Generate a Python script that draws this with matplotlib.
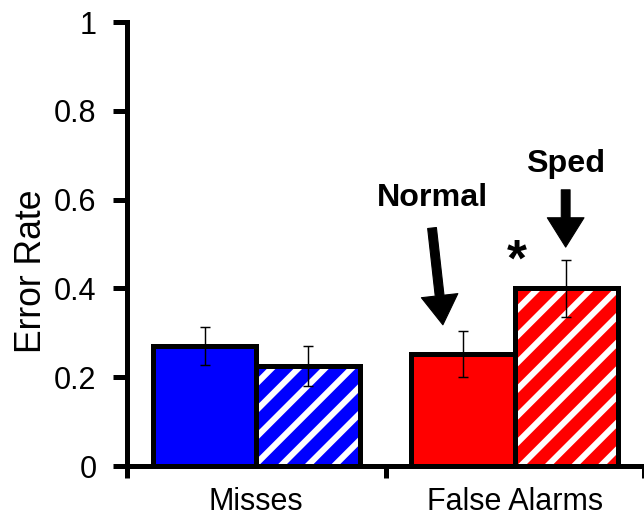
import matplotlib
matplotlib.use("Agg")
import matplotlib.pyplot as plt
import numpy as np

categories = ["Misses", "False Alarms"]
normal_vals = [0.27, 0.253]
normal_err = [0.043, 0.052]
sped_vals = [0.225, 0.40]
sped_err = [0.045, 0.065]
normal_colors = ["#0000FF", "#FF0000"]
yticks = [0, 0.2, 0.4, 0.6, 0.8, 1]
yticklabels = ["0", "0.2", "0.4", "0.6", "0.8", "1"]

plt.rcParams['font.family'] = ['Liberation Sans', 'DejaVu Sans']
plt.rcParams['hatch.linewidth'] = 5.5

DPI = 80
fig = plt.figure(figsize=(644 / DPI, 521 / DPI), dpi=DPI)
ax = fig.add_axes([127 / 644, 1 - 466 / 521, 1 - 127 / 644, (466 - 22) / 521])

x = np.arange(len(categories))
w = 0.40
off = 0.20
lw = 4.5

for i in range(len(categories)):
    # normal (solid)
    ax.bar(x[i] - off, normal_vals[i], width=w, color=normal_colors[i],
           edgecolor='black', linewidth=lw, zorder=2)
    # sped (hatched)
    ax.bar(x[i] + off, sped_vals[i], width=w, color=normal_colors[i],
           edgecolor='white', linewidth=0, hatch='/', zorder=2)
    ax.bar(x[i] + off, sped_vals[i], width=w, fill=False,
           edgecolor='black', linewidth=lw, zorder=3)

ax.errorbar(x - off, normal_vals, yerr=normal_err, fmt='none', ecolor='black',
            elinewidth=1.3, capsize=4.5, capthick=1.3, zorder=4)
ax.errorbar(x + off, sped_vals, yerr=sped_err, fmt='none', ecolor='black',
            elinewidth=1.3, capsize=4.5, capthick=1.3, zorder=4)

ax.set_xlim(-0.5, -0.5 + 517 / 261)
ax.set_ylim(0, 1)

for s in ['top', 'right']:
    ax.spines[s].set_visible(False)
for s in ['left', 'bottom']:
    ax.spines[s].set_linewidth(4.5)
    ax.spines[s].set_zorder(5)

ax.set_yticks(yticks)
ax.set_yticklabels(yticklabels)
ax.tick_params(axis='y', direction='out', length=12.5, width=4.5, pad=15,
               labelsize=27.5)
ax.set_xticks([-0.5, 0.5, 1.5])
ax.set_xticklabels([])
ax.set_xticks(x, minor=True)
ax.set_xticklabels(categories, minor=True)
ax.tick_params(axis='x', which='major', direction='out', length=11, width=4.5)
ax.tick_params(axis='x', which='minor', length=0, pad=19, labelsize=27.5)

ax.set_ylabel("Error Rate", fontsize=32, va='center', ha='center')
ax.yaxis.set_label_coords((31 - 127) / 517, (466 - 271) / 444)

# annotations
astyle = "simple,head_length=1.2,head_width=1.5,tail_width=0.36"
ax.annotate("", xy=(0.722, 0.318), xytext=(0.680, 0.536),
            arrowprops=dict(arrowstyle=astyle, color='black',
                            mutation_scale=22, shrinkA=0, shrinkB=0),
            zorder=6)
ax.annotate("", xy=(1.197, 0.493), xytext=(1.197, 0.622),
            arrowprops=dict(arrowstyle=astyle, color='black',
                            mutation_scale=22, shrinkA=0, shrinkB=0),
            zorder=6)
ax.text(0.680, 0.604, "Normal", ha='center', va='center', fontsize=29,
        fontweight='bold')
ax.text(1.195, 0.680, "Sped", ha='center', va='center', fontsize=29,
        fontweight='bold')
ax.text(1.006, 0.46, "*", ha='center', va='center', fontsize=46,
        fontweight='bold')

fig.savefig("out.png", dpi=DPI)
